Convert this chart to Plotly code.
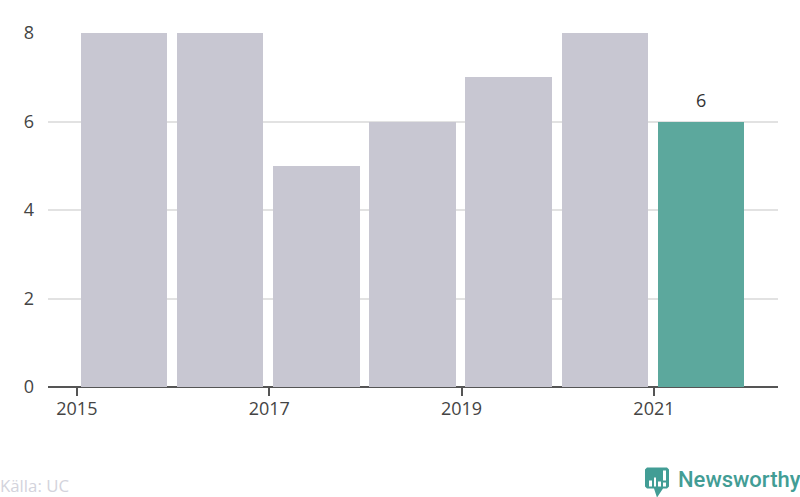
import plotly.graph_objects as go

years = [2015, 2016, 2017, 2018, 2019, 2020, 2021]
values = [8, 8, 5, 6, 7, 8, 6]
colors = ["#c8c7d2"] * 6 + ["#5ca89d"]
tick_years = [2015, 2017, 2019, 2021]
y_ticks = [0, 2, 4, 6, 8]
source = "Källa: UC"
brand = "Newsworthy"

W, H = 800, 497
L, R, T, B = 48, 22, 33, 110.4
FONT = "Open Sans"
TEAL = "#429d95"

def px(x):
    return (x - L) / (W - L - R)

def py(y):
    return (H - B - y) / (H - T - B)

def path(points):
    return "M" + " L".join(f"{px(x):.5f},{py(y):.5f}" for x, y in points) + " Z"

fig = go.Figure(go.Bar(
    x=years, y=values, width=0.9, offset=0.04,
    marker=dict(color=colors, line=dict(width=0)),
    hoverinfo="skip",
))

shapes = [dict(type="path", xref="paper", yref="paper", line=dict(width=0), fillcolor=TEAL,
               path=path([(645, 469), (647, 467), (667, 467), (669, 469), (669, 486), (667, 488),
                          (663, 488), (657, 497), (654, 488), (647, 488), (645, 486)]))]
for x0, x1, y0, y1 in [(649, 652, 480, 486), (654, 656, 477, 486), (658, 661, 481, 486), (663, 666, 470, 480), (663, 666, 482, 486)]:
    shapes.append(dict(type="rect", xref="paper", yref="paper", line=dict(width=0), fillcolor="white",
                       x0=px(x0), x1=px(x1), y0=py(y1), y1=py(y0)))

fig.update_layout(
    width=W, height=H, autosize=False,
    margin=dict(l=L, r=R, t=T, b=B),
    paper_bgcolor="white", plot_bgcolor="white", showlegend=False,
    font=dict(family=FONT, color="#444444", size=18),
    bargap=0,
    xaxis=dict(range=[2014.7, 2022.29], tickmode="array", tickvals=tick_years,
               ticktext=[str(y) for y in tick_years], ticks="outside", ticklen=8, tickwidth=2,
               tickcolor="#555555", showgrid=False, zeroline=False, showline=False,
               ticklabelstandoff=-3,
               tickfont=dict(family=FONT, size=18, color="#444444")),
    yaxis=dict(range=[0, 8], tickmode="array", tickvals=y_ticks, showgrid=True, gridcolor="#e2e2e2",
               gridwidth=2, zeroline=True, zerolinecolor="#555555", zerolinewidth=2,
               showline=False, ticks="", ticklabelstandoff=13,
               tickfont=dict(family=FONT, size=18, color="#444444")),
    shapes=shapes,
    annotations=[
        dict(text=str(values[-1]), x=years[-1] + 0.49, y=values[-1], xref="x", yref="y", yanchor="bottom",
             yshift=9, showarrow=False, borderpad=0, font=dict(family=FONT, size=18, color="#333333")),
        dict(text=source, xref="paper", yref="paper", x=px(0), y=py(485), xanchor="left", yanchor="middle",
             showarrow=False, borderpad=0, xshift=-1, font=dict(family=FONT, size=16.8, color="#d3d3dc")),
        dict(text=brand, xref="paper", yref="paper", x=px(802), y=py(479), xanchor="right", yanchor="middle",
             showarrow=False, borderpad=0, font=dict(family="Roboto", size=22, weight=500, color=TEAL)),
    ],
)
fig.write_html("out.html", config={"displayModeBar": False},
               post_script="document.body.style.margin='0';document.documentElement.style.overflow='hidden';")
